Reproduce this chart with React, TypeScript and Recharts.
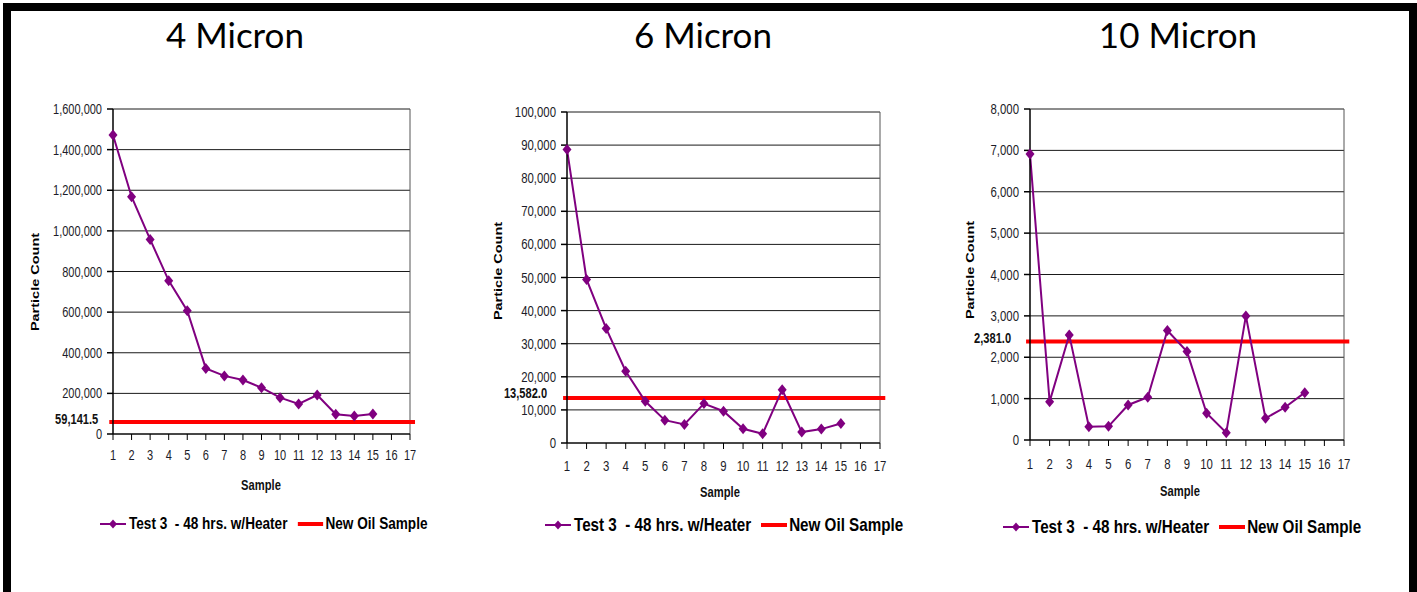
import React from "react";
import {
  LineChart,
  Line,
  XAxis,
  YAxis,
  CartesianGrid,
  ReferenceLine,
} from "recharts";

// ---- data ----
const SAMPLES = [1, 2, 3, 4, 5, 6, 7, 8, 9, 10, 11, 12, 13, 14, 15];
const MICRON_4 = [
  1472000, 1168000, 958000, 755000, 607000, 323000, 286000, 266000, 228000,
  179000, 148000, 192000, 97000, 89000, 98000,
];
const MICRON_6 = [
  88700, 49400, 34600, 21700, 12600, 6900, 5600, 11900, 9600, 4300, 2800,
  16100, 3300, 4200, 5900,
];
const MICRON_10 = [
  6911, 927, 2540, 322, 330, 847, 1033, 2645, 2137, 646, 178, 3000, 525, 791,
  1144,
];
const NEW_OIL = [59141.5, 13582.0, 2381.0];
const NEW_OIL_LABELS = ["59,141.5", "13,582.0", "2,381.0"];
const TITLES = ["4 Micron", "6 Micron", "10 Micron"];
const X_TICKS = [1, 2, 3, 4, 5, 6, 7, 8, 9, 10, 11, 12, 13, 14, 15, 16, 17];
const Y_TICKS_4 = [0, 200000, 400000, 600000, 800000, 1000000, 1200000, 1400000, 1600000];
const Y_TICKS_6 = [0, 10000, 20000, 30000, 40000, 50000, 60000, 70000, 80000, 90000, 100000];
const Y_TICKS_10 = [0, 1000, 2000, 3000, 4000, 5000, 6000, 7000, 8000];
const SERIES_NAME = "Test 3  - 48 hrs. w/Heater";
const REF_NAME = "New Oil Sample";

const PURPLE = "#800080";
const RED = "#ff0000";
const ARIAL = "'Liberation Sans', Arial, sans-serif";
// the source picture is squeezed horizontally, so text is narrowed
const SQ = 0.8;
const SQ_TICK = 0.76;

const Y_W = 60;
const X_H = 30;

// page-coordinate layout for each panel
const PANELS = [
  {
    x0: 20, y0: 90, w: 420, h: 460,
    plot: { l: 113, r: 410, t: 109, b: 434 },
    titleX: 235, tickFont: 14.5, xTickMargin: 10,
    pc: { x: 35, y: 282 }, sample: { x: 261, y: 486 },
    refOff: 11, refDy: -3,
    legend: { x: 100, y: 524, font: 17 },
  },
  {
    x0: 470, y0: 90, w: 440, h: 460,
    plot: { l: 567, r: 880, t: 112, b: 443 },
    titleX: 703, tickFont: 15, xTickMargin: 11,
    pc: { x: 498, y: 271 }, sample: { x: 720, y: 493 },
    refOff: 16, refDy: -5,
    legend: { x: 545, y: 525, font: 19 },
  },
  {
    x0: 940, y0: 90, w: 430, h: 460,
    plot: { l: 1030, r: 1344, t: 109, b: 440 },
    titleX: 1178, tickFont: 15, xTickMargin: 12,
    pc: { x: 970, y: 270 }, sample: { x: 1180, y: 492 },
    refOff: 15, refDy: -4,
    legend: { x: 1003, y: 527, font: 19 },
  },
];

const fmt = (v: number) => v.toLocaleString("en-US");

const Diamond = (props: any) => {
  const { cx, cy } = props;
  if (cx == null || cy == null) return null;
  return (
    <polygon
      points={`${cx},${cy - 5.5} ${cx + 4.5},${cy} ${cx},${cy + 5.5} ${cx - 4.5},${cy}`}
      fill={PURPLE}
    />
  );
};

function NarrowText({ x, y, anchor, size, bold, children, dy, fill, sq }: any) {
  return (
    <text
      transform={`translate(${x},${y}) scale(${sq || SQ},1)`}
      textAnchor={anchor}
      dominantBaseline={dy ? undefined : "central"}
      dy={dy}
      fontFamily={ARIAL}
      fontWeight={bold ? 700 : 400}
      fontSize={size}
      fill={fill || "#1c1c28"}
    >
      {children}
    </text>
  );
}

const makeTick = (size: number, axis: "x" | "y") => (props: any) => {
  const { x, y, payload } = props;
  return (
    <NarrowText
      x={x}
      y={y}
      anchor={axis === "x" ? "middle" : "end"}
      size={size}
      sq={SQ_TICK}
      dy={axis === "x" ? "0.71em" : undefined}
    >
      {fmt(payload.value)}
    </NarrowText>
  );
};

function LegendRow({ x, y, fontSize }: { x: number; y: number; fontSize: number }) {
  const k = 1 / SQ;
  return (
    <div
      style={{
        position: "absolute",
        left: x,
        top: y - 10,
        height: 20,
        display: "flex",
        alignItems: "center",
        fontFamily: ARIAL,
        fontWeight: 700,
        fontSize,
        whiteSpace: "pre",
        color: "#000",
        lineHeight: "20px",
        transform: `scaleX(${SQ})`,
        transformOrigin: "0 50%",
      }}
    >
      <svg width={26 * k} height={12}>
        <line x1={0} y1={6} x2={26 * k} y2={6} stroke={PURPLE} strokeWidth={2} />
        <polygon
          points={`${13 * k},1.5 ${13 * k + 4 * k},6 ${13 * k},10.5 ${13 * k - 4 * k},6`}
          fill={PURPLE}
        />
      </svg>
      <span style={{ marginLeft: 3 * k }}>{SERIES_NAME}</span>
      <svg width={26 * k} height={12} style={{ marginLeft: 10 * k }}>
        <line x1={0} y1={6} x2={26 * k} y2={6} stroke={RED} strokeWidth={4} />
      </svg>
      <span style={{ marginLeft: 2 * k }}>{REF_NAME}</span>
    </div>
  );
}

function Panel({ idx, values, yTicks }: { idx: number; values: number[]; yTicks: number[] }) {
  const p = PANELS[idx];
  const data = SAMPLES.map((s, i) => ({ sample: s, count: values[i] }));
  const margin = {
    top: p.plot.t - p.y0,
    left: p.plot.l - p.x0 - Y_W,
    right: p.x0 + p.w - p.plot.r,
    bottom: p.y0 + p.h - p.plot.b - X_H,
  };
  const ref = NEW_OIL[idx];
  const pcx = p.pc.x - p.x0;
  const pcy = p.pc.y - p.y0;

  return (
    <>
      <div style={{ position: "absolute", left: p.x0, top: p.y0 }}>
        <LineChart width={p.w} height={p.h} data={data} margin={margin}>
          <CartesianGrid vertical={false} stroke="#1a1a1a" strokeWidth={1} />
          <XAxis
            dataKey="sample"
            type="number"
            domain={[1, 17]}
            ticks={X_TICKS}
            interval={0}
            height={X_H}
            tick={makeTick(p.tickFont, "x")}
            tickSize={6}
            tickMargin={p.xTickMargin}
            stroke="#000"
            label={() => (
              <NarrowText
                x={p.sample.x - p.x0}
                y={p.sample.y - p.y0}
                anchor="middle"
                size={14}
                bold
                fill="#111"
              >
                Sample
              </NarrowText>
            )}
          />
          <YAxis
            type="number"
            domain={[0, yTicks[yTicks.length - 1]]}
            ticks={yTicks}
            interval={0}
            width={Y_W}
            tick={makeTick(p.tickFont, "y")}
            tickSize={6}
            tickMargin={5}
            stroke="#000"
            strokeWidth={1.5}
            label={() => (
              <text
                transform={`translate(${pcx},${pcy}) rotate(-90) scale(1,${SQ})`}
                textAnchor="middle"
                dominantBaseline="central"
                fontFamily={ARIAL}
                fontWeight={700}
                fontSize={14.5}
                fill="#000"
              >
                Particle Count
              </text>
            )}
          />
          <ReferenceLine x={17} stroke="#555" strokeWidth={1} />
          <ReferenceLine
            segment={[
              { x: 0.8, y: ref },
              { x: 17.27, y: ref },
            ]}
            ifOverflow="visible"
            stroke={RED}
            strokeWidth={4}
            label={(props: any) => (
              <NarrowText
                x={props.viewBox.x - p.refOff}
                y={props.viewBox.y + p.refDy}
                anchor="end"
                size={15}
                sq={0.74}
                bold
                fill="#111"
              >
                {NEW_OIL_LABELS[idx]}
              </NarrowText>
            )}
          />
          <Line
            dataKey="count"
            name={SERIES_NAME}
            stroke={PURPLE}
            strokeWidth={2}
            dot={Diamond}
            activeDot={false}
            isAnimationActive={false}
          />
        </LineChart>
      </div>
      <LegendRow x={p.legend.x} y={p.legend.y} fontSize={p.legend.font} />
    </>
  );
}

export default function App() {
  return (
    <div
      style={{
        position: "absolute",
        left: 0,
        top: 0,
        width: 1417,
        height: 592,
        overflow: "hidden",
        background: "#fff",
      }}
    >
      <div
        style={{
          position: "absolute",
          left: 3,
          top: 3,
          width: 1414,
          height: 589,
          boxSizing: "border-box",
          borderTop: "8px solid #000",
          borderLeft: "8px solid #000",
          borderRight: "8px solid #000",
        }}
      />
      {TITLES.map((t, i) => (
        <div
          key={t}
          style={{
            position: "absolute",
            left: PANELS[i].titleX - 150,
            width: 300,
            top: 14,
            textAlign: "center",
            fontFamily: "Lato, 'Open Sans', sans-serif",
            fontSize: 35,
            lineHeight: "40px",
            color: "#000",
          }}
        >
          {t}
        </div>
      ))}
      <Panel idx={0} values={MICRON_4} yTicks={Y_TICKS_4} />
      <Panel idx={1} values={MICRON_6} yTicks={Y_TICKS_6} />
      <Panel idx={2} values={MICRON_10} yTicks={Y_TICKS_10} />
    </div>
  );
}
